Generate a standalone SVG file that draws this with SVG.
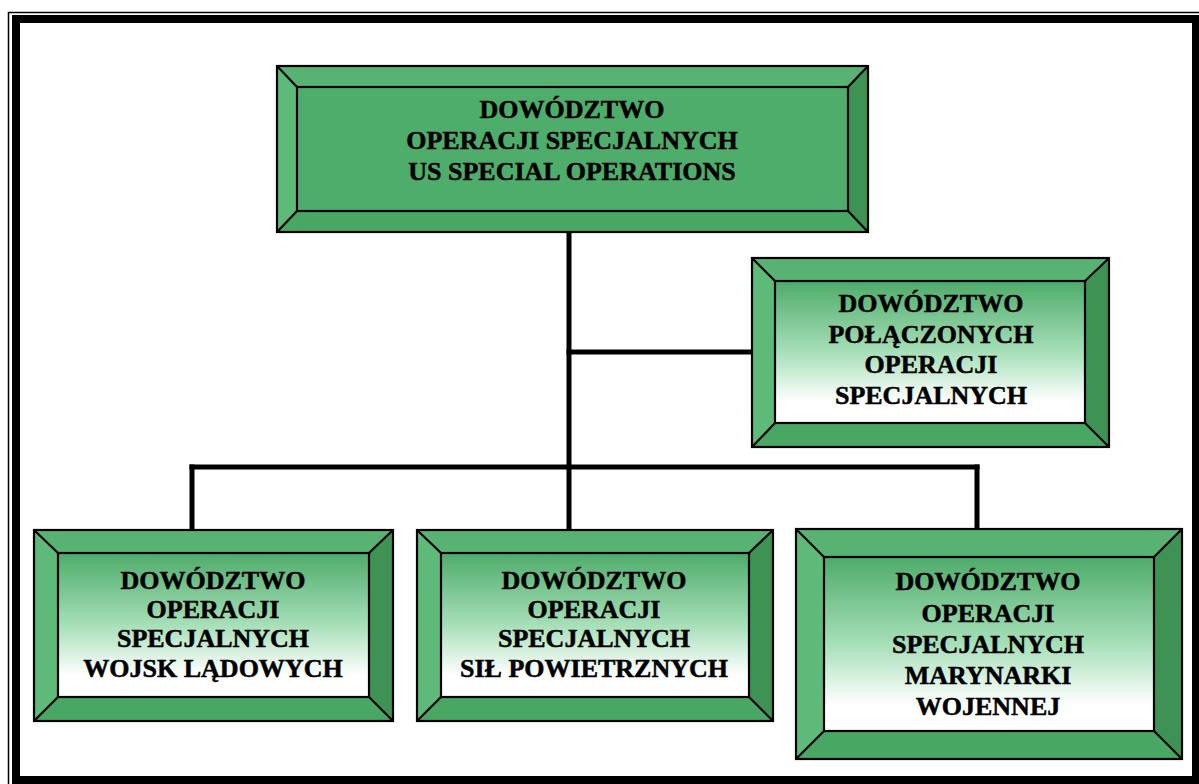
<svg xmlns="http://www.w3.org/2000/svg" width="1199" height="784" viewBox="0 0 1199 784">
<defs>
<linearGradient id="g" x1="0" y1="0" x2="0" y2="1">
<stop offset="0" stop-color="#4eab6a"/>
<stop offset="0.5" stop-color="#a6dfb8"/>
<stop offset="0.85" stop-color="#ffffff"/>
<stop offset="1" stop-color="#ffffff"/>
</linearGradient>
<style>
.bt{fill:#58b373}
.bl{fill:#5dba78}
.br{fill:#3d9254}
.bb{fill:#48a763}
.ol{fill:none;stroke:#000;stroke-width:2.2;stroke-linejoin:miter}
.in{fill:url(#g);stroke:#000;stroke-width:2.2}
.ins{fill:#4fad6b;stroke:#000;stroke-width:2.2}
.t{font-family:"Liberation Serif","Times New Roman",serif;font-weight:bold;font-size:26px;fill:#000;stroke:#000;stroke-width:0.5;text-anchor:middle}
.c{stroke:#000;stroke-width:5;fill:none;stroke-linecap:square}
</style>
</defs>
<rect x="0" y="0" width="1199" height="784" fill="#fff"/>
<path d="M8.5 784 V12.5 H1199" fill="none" stroke="#000" stroke-width="1.5"/>
<rect x="16" y="19" width="1180" height="761" fill="none" stroke="#000" stroke-width="8"/>

<g id="connectors">
<path class="c" d="M569 232 V529"/>
<path class="c" d="M569 352 H751"/>
<path class="c" d="M192 467 H977"/>
<path class="c" d="M192 467 V529"/>
<path class="c" d="M977 467 V529"/>
</g>

<g id="n0">
<polygon class="bt" points="277,66 868,66 848,87 297,87"/>
<polygon class="bl" points="277,66 297,87 297,211 277,232"/>
<polygon class="br" points="868,66 868,232 848,211 848,87"/>
<polygon class="bb" points="277,232 297,211 848,211 868,232"/>
<rect class="ins" x="297" y="87" width="551" height="124"/>
<rect class="ol" x="277" y="66" width="591" height="166"/>
<path class="ol" d="M277 66 L297 87 M868 66 L848 87 M277 232 L297 211 M868 232 L848 211"/>
<text class="t" x="572" y="118">DOWÓDZTWO</text>
<text class="t" x="572" y="149">OPERACJI SPECJALNYCH</text>
<text class="t" x="572" y="180">US SPECIAL OPERATIONS</text>
</g>

<g id="n1">
<polygon class="bt" points="752,258 1109,258 1085,281 775,281"/>
<polygon class="bl" points="752,258 775,281 775,423 752,447"/>
<polygon class="br" points="1109,258 1109,447 1085,423 1085,281"/>
<polygon class="bb" points="752,447 775,423 1085,423 1109,447"/>
<rect class="in" x="775" y="281" width="310" height="142"/>
<rect class="ol" x="752" y="258" width="357" height="189"/>
<path class="ol" d="M752 258 L775 281 M1109 258 L1085 281 M752 447 L775 423 M1109 447 L1085 423"/>
<text class="t" x="931" y="312">DOWÓDZTWO</text>
<text class="t" x="931" y="343">POŁĄCZONYCH</text>
<text class="t" x="931" y="373">OPERACJI</text>
<text class="t" x="931" y="404">SPECJALNYCH</text>
</g>

<g id="n2">
<polygon class="bt" points="34,530 393,530 369,553 58,553"/>
<polygon class="bl" points="34,530 58,553 58,697 34,721"/>
<polygon class="br" points="393,530 393,721 369,697 369,553"/>
<polygon class="bb" points="34,721 58,697 369,697 393,721"/>
<rect class="in" x="58" y="553" width="311" height="144"/>
<rect class="ol" x="34" y="530" width="359" height="191"/>
<path class="ol" d="M34 530 L58 553 M393 530 L369 553 M34 721 L58 697 M393 721 L369 697"/>
<text class="t" x="213" y="589">DOWÓDZTWO</text>
<text class="t" x="213" y="618">OPERACJI</text>
<text class="t" x="213" y="647">SPECJALNYCH</text>
<text class="t" x="213" y="677">WOJSK LĄDOWYCH</text>
</g>

<g id="n3">
<polygon class="bt" points="417,530 773,530 749,553 441,553"/>
<polygon class="bl" points="417,530 441,553 441,697 417,721"/>
<polygon class="br" points="773,530 773,721 749,697 749,553"/>
<polygon class="bb" points="417,721 441,697 749,697 773,721"/>
<rect class="in" x="441" y="553" width="308" height="144"/>
<rect class="ol" x="417" y="530" width="356" height="191"/>
<path class="ol" d="M417 530 L441 553 M773 530 L749 553 M417 721 L441 697 M773 721 L749 697"/>
<text class="t" x="594" y="589">DOWÓDZTWO</text>
<text class="t" x="594" y="618">OPERACJI</text>
<text class="t" x="594" y="647">SPECJALNYCH</text>
<text class="t" x="594" y="677">SIŁ POWIETRZNYCH</text>
</g>

<g id="n4">
<polygon class="bt" points="796,529 1182,529 1154,557 824,557"/>
<polygon class="bl" points="796,529 824,557 824,731 796,759"/>
<polygon class="br" points="1182,529 1182,759 1154,731 1154,557"/>
<polygon class="bb" points="796,759 824,731 1154,731 1182,759"/>
<rect class="in" x="824" y="557" width="330" height="174"/>
<rect class="ol" x="796" y="529" width="386" height="230"/>
<path class="ol" d="M796 529 L824 557 M1182 529 L1154 557 M796 759 L824 731 M1182 759 L1154 731"/>
<text class="t" x="988" y="590">DOWÓDZTWO</text>
<text class="t" x="988" y="622">OPERACJI</text>
<text class="t" x="988" y="653">SPECJALNYCH</text>
<text class="t" x="988" y="684">MARYNARKI</text>
<text class="t" x="988" y="715">WOJENNEJ</text>
</g>
</svg>
